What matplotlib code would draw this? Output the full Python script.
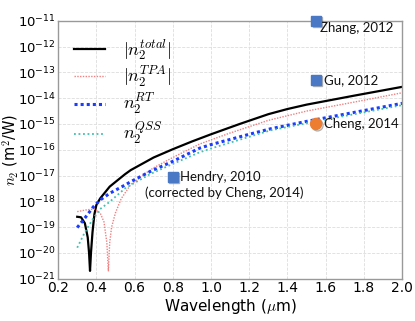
import numpy as np
import matplotlib
matplotlib.use("Agg")
import matplotlib.pyplot as plt
import matplotlib.patheffects as pe
from matplotlib.ticker import LogLocator, NullLocator

plt.rcParams['mathtext.fontset'] = 'cm'
plt.rcParams['axes.unicode_minus'] = False
plt.rcParams['font.family'] = ['DejaVu Sans']

# ---- data (values given as log10 of n2 in m^2/W) ----
wl_total = [0.30, 0.32, 0.34, 0.355, 0.362, 0.367, 0.372, 0.38, 0.39, 0.40, 0.42, 0.47, 0.55, 0.58,
            0.70, 0.80, 0.90, 1.00, 1.15, 1.30, 1.40, 1.50, 1.75, 2.00]
log_total = [-18.60, -18.62, -18.85, -19.40, -20.00, -20.70, -20.00, -19.20, -18.50, -18.15, -17.89,
             -17.43, -16.95, -16.79, -16.30, -15.98, -15.68, -15.40, -15.00, -14.62, -14.42, -14.25,
             -13.90, -13.56]

wl_tpa = [0.30, 0.35, 0.39, 0.42, 0.44, 0.455, 0.463, 0.47, 0.48, 0.50, 0.53, 0.58, 0.65, 0.70,
          0.80, 0.94, 1.10, 1.30, 1.50, 1.75, 2.00]
log_tpa = [-18.40, -18.33, -18.30, -18.45, -18.80, -19.60, -20.70, -19.60, -19.00, -18.45, -17.90,
           -17.35, -16.95, -16.70, -16.30, -15.78, -15.35, -14.86, -14.50, -14.15, -13.79]

wl_rt = [0.30, 0.34, 0.385, 0.42, 0.47, 0.55, 0.58, 0.68, 0.80, 0.94, 1.00, 1.20, 1.31, 1.50, 1.75, 2.00]
log_rt = [-19.02, -18.65, -18.21, -17.95, -17.69, -17.37, -17.24, -16.85, -16.45, -15.94, -15.80,
          -15.40, -15.19, -14.90, -14.55, -14.20]

wl_qss = [0.30, 0.34, 0.385, 0.42, 0.47, 0.55, 0.58, 0.68, 0.80, 0.94, 1.00, 1.31, 1.50, 1.75, 2.00]
log_qss = [-19.80, -19.20, -18.65, -18.30, -18.02, -17.50, -17.37, -16.95, -16.55, -16.10, -15.95,
           -15.25, -14.97, -14.62, -14.27]

exp_names = ["Zhang, 2012", "Gu, 2012", "Cheng, 2014", "Hendry, 2010", "(corrected by Cheng, 2014)"]
exp_wl = [1.55, 1.55, 1.55, 0.80]
exp_log = [-11.0, -13.29, -15.0, -17.05]
exp_marker = ["s", "s", "o", "s"]
exp_color = ["#4a78c4", "#4a78c4", "#ed7d31", "#4a78c4"]

xticks = [0.2, 0.4, 0.6, 0.8, 1.0, 1.2, 1.4, 1.6, 1.8, 2.0]

def to_val(a):
    return 10.0 ** np.asarray(a)

fig = plt.figure(figsize=(4.15, 3.21), dpi=100)
ax = fig.add_axes([0.140, 0.132, 0.829, 0.803])

ax.plot(wl_total, to_val(log_total), color='black', lw=1.6, label=r'$|n_2^{total}|$')
ax.plot(wl_tpa, to_val(log_tpa), color='#f08080', lw=1.0, ls=(0, (1, 1)), label=r'$|n_2^{TPA}|$')
ax.plot(wl_rt, to_val(log_rt), color='#1a3cff', lw=2.2, ls=(0, (1, 1)), label=r'$n_2^{RT}$')
ax.plot(wl_qss, to_val(log_qss), color='#40c0b0', lw=1.3, ls=(0, (1, 1.5)), label=r'$n_2^{QSS}$')

for w, lv, m, c in zip(exp_wl, exp_log, exp_marker, exp_color):
    ms = 7 if m == 's' else 8
    ax.plot([w], [10.0 ** lv], marker=m, color=c, ms=ms, ls='none', clip_on=False,
            path_effects=[pe.SimpleLineShadow(offset=(1, -1), alpha=0.3), pe.Normal()], zorder=5)

txtkw = dict(family='Lato', fontsize=9.5, color='#111111')
ax.text(1.57, 10.0 ** -11.05, exp_names[0], va='top', ha='left', **txtkw)
ax.text(1.59, 10.0 ** -13.29, exp_names[1], va='center', ha='left', **txtkw)
ax.text(1.59, 10.0 ** -15.0, exp_names[2], va='center', ha='left', **txtkw)
ax.text(0.84, 10.0 ** -17.05, exp_names[3], va='center', ha='left', **txtkw)
ax.text(0.655, 10.0 ** -17.68, exp_names[4], va='center', ha='left', **txtkw)

ax.set_yscale('log')
ax.set_xlim(0.2, 2.0)
ax.set_ylim(1e-21, 1e-11)
ax.set_xticks(xticks)
ax.set_xticklabels([f"{t:.1f}" for t in xticks])
ax.yaxis.set_major_locator(LogLocator(base=10, numticks=20))
ax.yaxis.set_minor_locator(NullLocator())
ax.tick_params(axis='x', which='both', length=0, labelsize=10, pad=2)
ax.tick_params(axis='y', which='both', length=0, labelsize=9.5, pad=1.5)
ax.grid(True, color='#dddddd', ls='--', lw=0.6)
for s in ax.spines.values():
    s.set_color('#999999')
    s.set_linewidth(1.0)

ax.set_xlabel(r'Wavelength ($\mu$m)', fontsize=11, labelpad=1)
ax.set_ylabel(r'$n_2$ (m$^2$/W)', fontsize=10.5)
ax.yaxis.set_label_coords(-0.11, 0.5)

leg = ax.legend(loc='upper left', frameon=False, fontsize=13, handlelength=1.7,
                bbox_to_anchor=(0.0, 1.0), labelspacing=0.15, handletextpad=1.0,
                borderaxespad=0.5)

fig.savefig('out.png', dpi=100)
